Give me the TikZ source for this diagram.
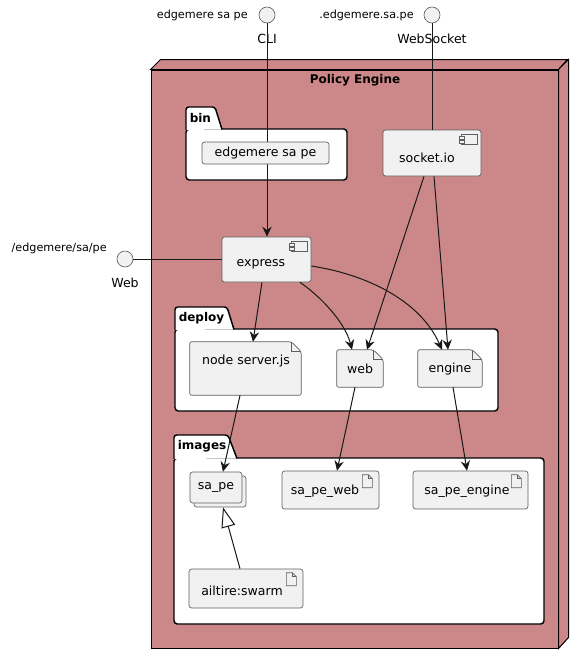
\documentclass[tikz,border=0pt]{standalone}
\usepackage{fontspec}
\setmainfont{DejaVu Sans}
\usetikzlibrary{arrows.meta}
\definecolor{nodefill}{HTML}{CC8888}
\definecolor{boxfill}{HTML}{F1F1F1}
\definecolor{edgecol}{HTML}{181818}
\definecolor{boxline}{HTML}{5F5F5F}
\newcommand\fsmain{\fontsize{9.4pt}{11pt}\selectfont}
\newcommand\fssmall{\fontsize{8.4pt}{10pt}\selectfont}
\newcommand\fsbold{\fontsize{9pt}{11pt}\selectfont\bfseries}
\newcommand\CompIcon[1]{%
  \draw[icon] ([shift={(-20,5)}]#1.north east) rectangle ++(16,10);
  \draw[icon] ([shift={(-22,7)}]#1.north east) rectangle ++(5,3);
  \draw[icon] ([shift={(-22,11)}]#1.north east) rectangle ++(5,3);
}
\newcommand\DocShape[1]{%
  \draw[draw=boxline, fill=boxfill, line width=0.5pt, rounded corners=1.5pt] ([xshift=-7.5pt]#1.north east) -- (#1.north west) -- (#1.south west) -- (#1.south east) -- ([yshift=-7.5pt]#1.north east) -- cycle;
  \draw[draw=boxline, line width=0.5pt] ([xshift=-7.5pt]#1.north east) -- ([shift={(-10,10)}]#1.north east) -- ([yshift=-7.5pt]#1.north east);
}
\newcommand\ArtIcon[1]{%
  \draw[icon] ([shift={(-17,4)}]#1.north east) -- ++(6,0) -- ++(4,4) -- ++(0,9) -- ++(-10,0) -- cycle;
  \draw[icon, fill=none] ([shift={(-11,4)}]#1.north east) -- ++(0,4) -- ++(4,0);
}
\begin{document}
\begin{tikzpicture}[x=0.75pt,y=-0.75pt,
  box/.style={draw=boxline, fill=boxfill, line width=0.5pt, rounded corners=2pt, inner sep=0pt, font=\fsmain},
  plain/.style={draw=none, fill=none, inner sep=0pt},
  txt/.style={inner sep=0pt, font=\fsmain},
  pkg/.style={draw=black, fill=white, line width=1.1pt, rounded corners=2.5pt, inner sep=0pt},
  pkgtab/.style={draw=black, fill=white, line width=1.1pt},
  iface/.style={circle, draw=boxline, fill=boxfill, line width=0.5pt, minimum size=12pt, inner sep=0pt},
  conn/.style={draw=edgecol, line width=0.75pt},
  arr/.style={conn, -{Stealth[length=7.5pt,width=7pt,inset=2.5pt]}},
  gen/.style={conn, -{Triangle[open, length=15pt, width=10.5pt, fill=white]}},
  icon/.style={draw=boxline, line width=0.5pt, fill=boxfill},
]
\useasboundingbox (0,0) rectangle (584,664);

% 3D node
\node[draw=black, fill=nodefill, line width=0.75pt, minimum width=305.25pt, minimum height=433.5pt, inner sep=0pt] (pe) at (354.5,359) {};
\draw[black, line width=0.75pt, fill=nodefill] (pe.north west) -- ++(10,-10) -- ++(407,0) -- (pe.north east) -- cycle;
\draw[black, line width=0.75pt, fill=nodefill] (pe.north east) -- ++(10,-10) -- ++(0,578) -- (pe.south east) -- cycle;
\node[txt, font=\fsbold] (pet) at (355,80) {Policy Engine};

% packages
\node[pkg, minimum width=120.75pt, minimum height=38.25pt] (bin) at (266.5,154.5) {};
\draw[pkgtab, rounded corners=2pt] (186,130) -- (186,107) -- (215,107) [sharp corners] -- (222,129.5);
\node[txt, font=\fsbold, anchor=west] (bint) at (189.5,118) {bin};

\node[pkg, minimum width=242.25pt, minimum height=61.5pt] (deploy) at (336.5,370) {};
\draw[pkgtab, rounded corners=2pt] (175,330) -- (175,307) -- (227,307) [sharp corners] -- (234,329.5);
\node[txt, font=\fsbold, anchor=west] (deployt) at (178.5,318) {deploy};

\node[pkg, minimum width=277.5pt, minimum height=124.5pt] (images) at (359,541) {};
\draw[pkgtab, rounded corners=2pt] (174,459) -- (174,435) -- (228,435) [sharp corners] -- (237,458.5);
\node[txt, font=\fsbold, anchor=west] (imagest) at (177.5,446) {images};

% interfaces
\node[iface] (cli) at (267,15) {};
\node[txt, font=\fssmall, anchor=east] (clin) at (248,15) {edgemere sa pe};
\node[txt] (clil) at (267,39) {CLI};
\node[iface] (wsi) at (432,15) {};
\node[txt, font=\fssmall, anchor=east] (wsn) at (414,15) {.edgemere.sa.pe};
\node[txt] (wsl) at (432,39) {WebSocket};
\node[iface] (webi) at (125,259) {};
\node[txt, font=\fssmall, anchor=east] (webn) at (107,248) {/edgemere/sa/pe};
\node[txt] (webl) at (125,283) {Web};

% express first, so the CLI connector can run under the bin entry
\node[box, minimum width=66.75pt, minimum height=33.75pt] (express) at (266.5,259.5) {};
\CompIcon{express}
\node[txt] (expresst) at (261,264) {express};
\draw[arr] (cli) -- (express.north -| cli);

% boxes
\node[box, minimum width=95.25pt, minimum height=16.5pt] (ed) at (265.5,153) {edgemere sa pe};
\node[box, minimum width=73.5pt, minimum height=34.5pt] (socket) at (432,153) {};
\CompIcon{socket}
\node[txt] (sockett) at (427,158) {socket.io};

\node[plain, minimum width=83.25pt, minimum height=39.75pt] (nodejs) at (245.5,368.5) {};
\DocShape{nodejs}
\node[txt] (nodejst) at (246,361) {node server.js};
\node[plain, minimum width=34.5pt, minimum height=27.75pt] (web) at (360,368.5) {};
\DocShape{web}
\node[txt] (webt) at (360,369) {web};
\node[plain, minimum width=48pt, minimum height=27.75pt] (engine) at (450,368.5) {};
\DocShape{engine}
\node[txt] (enginet) at (450,369) {engine};

\draw[box] (194,476) rectangle (246,507);
\node[box, minimum width=39pt, minimum height=23.25pt] (sape) at (216,487.5) {sa\_pe};
\node[box, minimum width=72.75pt, minimum height=28.5pt] (sapeweb) at (330.5,490) {};
\ArtIcon{sapeweb}
\node[txt] (sapewebt) at (325,491) {sa\_pe\_web};
\node[box, minimum width=86.25pt, minimum height=28.5pt] (sapeeng) at (470.5,490) {};
\ArtIcon{sapeeng}
\node[txt] (sapeengt) at (467,491) {sa\_pe\_engine};
\node[box, minimum width=85.5pt, minimum height=29.25pt] (swarm) at (246,588.5) {};
\ArtIcon{swarm}
\node[txt] (swarmt) at (242,591) {ailtire:swarm};

% connectors
\draw[conn] (wsi) -- (socket.north -| wsi);
\draw[conn] (webi) -- (express.west |- webi);
\draw[arr] ([xshift=-3.4pt]express.south) -- ([xshift=5.6pt]nodejs.north);
\draw[arr] ([xshift=25.1pt]express.south) .. controls (320,296) and (345,322) .. ([xshift=-6pt]web.north);
\draw[arr] ([yshift=-4.9pt]express.east) .. controls (365,274) and (420,300) .. ([xshift=-6pt]engine.north);
\draw[arr] ([xshift=-6pt]socket.south) -- ([xshift=5.25pt]web.north);
\draw[arr] ([xshift=1.5pt]socket.south) -- ([xshift=-1.5pt]engine.north);
\draw[arr] ([xshift=-4.1pt]nodejs.south) -- ([xshift=5.25pt]sape.north);
\draw[arr] ([xshift=-3.75pt]web.south) -- ([xshift=4.9pt]sapeweb.north);
\draw[arr] ([xshift=2.25pt]engine.south) -- ([xshift=-2.6pt]sapeeng.north);
\draw[gen] ([xshift=-4.5pt]swarm.north) -- ([xshift=5.25pt,yshift=-3pt]sape.south);
\end{tikzpicture}
\end{document}
